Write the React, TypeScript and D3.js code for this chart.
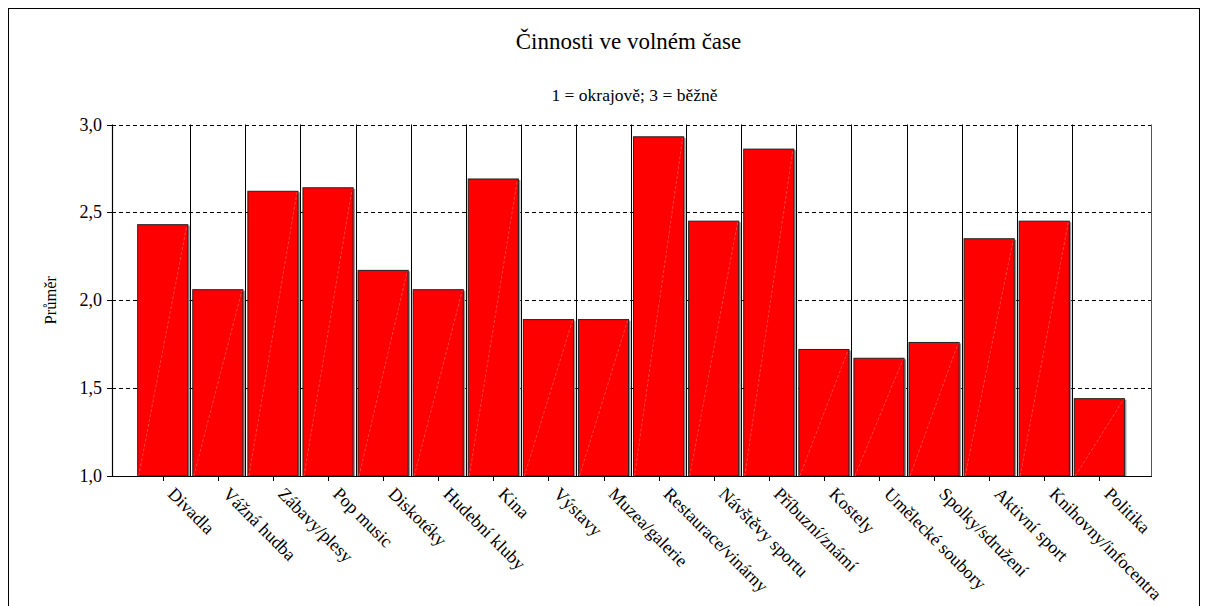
import React from "react";
import * as d3 from "d3";

const categories = [
  "Divadla", "Vážná hudba", "Zábavy/plesy", "Pop music", "Diskotéky", "Hudební kluby",
  "Kina", "Výstavy", "Muzea/galerie", "Restaurace/vinárny", "Návštěvy sportu",
  "Příbuzní/známí", "Kostely", "Umělecké soubory", "Spolky/sdružení", "Aktivní sport",
  "Knihovny/infocentra", "Politika",
];
const values = [
  2.43, 2.06, 2.62, 2.64, 2.17, 2.06, 2.69, 1.89, 1.89, 2.93, 2.45, 2.86, 1.72, 1.67, 1.76,
  2.35, 2.45, 1.44,
];
const yTicks = [1.0, 1.5, 2.0, 2.5, 3.0];
const title = "Činnosti ve volném čase";
const subtitle = "1 = okrajově; 3 = běžně";
const yLabel = "Průměr";

const FONT = "'Liberation Serif', 'Times New Roman', serif";

export default function App() {
  const W = 1208, H = 606;
  const plot = { left: 112, right: 1151, top: 124.5, bottom: 476 };
  const y = d3.scaleLinear().domain([1, 3]).range([plot.bottom, plot.top]);
  const x = d3.scaleBand<string>().domain(categories).range([135.2, 1126.9]).padding(0);
  const bw = x.bandwidth();
  const barW = bw * 0.91;
  const fmt = (v: number) => d3.format(".1f")(v).replace(".", ",");
  const cx = (plot.left + plot.right) / 2;

  return (
    <svg width={W} height={H} style={{ position: "absolute", left: 0, top: 0 }}>
      <rect x={0} y={0} width={W} height={H} fill="#fff" />
      <rect x={8.5} y={8.5} width={1191} height={640} fill="none" stroke="#000" strokeWidth={1} />
      <text x={cx - 3} y={49} textAnchor="middle" fontFamily={FONT} fontSize={23} fill="#000">{title}</text>
      <text x={cx + 3} y={101} textAnchor="middle" fontFamily={FONT} fontSize={17.5} fill="#000">{subtitle}</text>

      {/* horizontal dashed gridlines */}
      {yTicks.filter((t) => t > 1).map((t) => (
        <line key={"g" + t} x1={plot.left} x2={plot.right} y1={Math.round(y(t)) + 0.5} y2={Math.round(y(t)) + 0.5}
          stroke="#000" strokeWidth={1} strokeDasharray="4,3" />
      ))}
      {/* vertical separators */}
      {categories.slice(1).map((c) => (
        <line key={"v" + c} x1={Math.round(x(c)!) + 0.5} x2={Math.round(x(c)!) + 0.5} y1={plot.top} y2={plot.bottom}
          stroke="#000" strokeWidth={1} />
      ))}
      {/* right border */}
      <line x1={plot.right + 0.5} x2={plot.right + 0.5} y1={plot.top} y2={plot.bottom} stroke="#555" strokeWidth={1} />

      {/* bars */}
      {categories.map((c, i) => {
        const x0 = x(c)! + (bw - barW) / 2;
        const y0 = y(values[i]);
        const h = plot.bottom - y0;
        return (
          <g key={"b" + c}>
            <rect x={x0 + 2} y={y0 + 1} width={barW} height={h - 1} fill="#999" />
            <rect x={x0} y={y0} width={barW} height={h} fill="#ff0000" stroke="#222" strokeWidth={1} />
            <line x1={x0 + 1} y1={plot.bottom} x2={x0 + barW - 1} y2={y0 + 1} stroke="#ff7070" strokeWidth={0.6}
              strokeDasharray="3,2" />
          </g>
        );
      })}

      {/* axes */}
      <line x1={plot.left + 0.5} x2={plot.left + 0.5} y1={plot.top} y2={plot.bottom} stroke="#000" strokeWidth={1.2} />
      <line x1={plot.left} x2={plot.right + 1} y1={plot.bottom + 0.5} y2={plot.bottom + 0.5} stroke="#000" strokeWidth={1.2} />
      {yTicks.map((t) => (
        <g key={"t" + t}>
          <line x1={plot.left - 5} x2={plot.left} y1={Math.round(y(t)) + 0.5} y2={Math.round(y(t)) + 0.5} stroke="#000" />
          <text x={plot.left - 10} y={y(t) + 6} textAnchor="end" fontFamily={FONT} fontSize={18} fill="#000">{fmt(t)}</text>
        </g>
      ))}
      <text transform={`translate(56,${(plot.top + plot.bottom) / 2}) rotate(-90)`} textAnchor="middle"
        fontFamily={FONT} fontSize={16.5} fill="#000">{yLabel}</text>

      {categories.map((c) => {
        const tx = x(c)! + bw / 2;
        return (
          <g key={"x" + c}>
            <line x1={Math.round(tx) + 0.5} x2={Math.round(tx) + 0.5} y1={plot.bottom} y2={plot.bottom + 5} stroke="#000" />
            <text transform={`translate(${tx + 4},${plot.bottom + 19}) rotate(45)`} textAnchor="start"
              fontFamily={FONT} fontSize={18} fill="#000">{c}</text>
          </g>
        );
      })}
    </svg>
  );
}
